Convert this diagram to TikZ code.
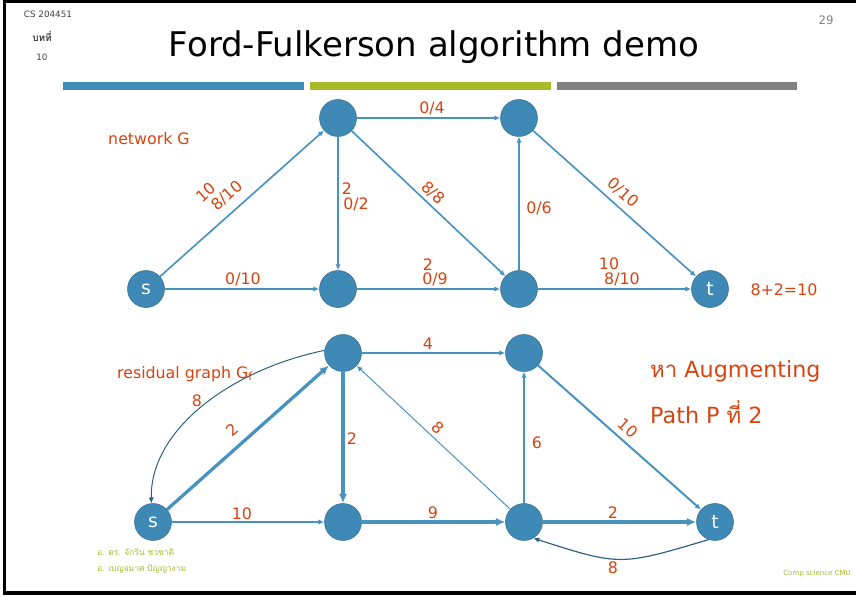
\documentclass[tikz,border=0pt]{standalone}
\usepackage{fontspec}
\setmainfont{DejaVu Sans}
\newfontfamily\thaifont[Script=Thai]{Loma}
\usetikzlibrary{arrows.meta}

\definecolor{nodeblue}{RGB}{63,137,182}
\definecolor{edgeblue}{RGB}{72,146,192}
\definecolor{labelred}{RGB}{214,66,16}
\definecolor{barblue}{RGB}{64,142,186}
\definecolor{bargreen}{RGB}{168,186,40}
\definecolor{bargray}{RGB}{128,128,128}
\definecolor{notegreen}{RGB}{160,186,50}

\begin{document}
\begin{tikzpicture}[x=0.03cm, y=-0.03cm,
	vtx/.style={draw=nodeblue!75!black, fill=nodeblue, circle, minimum size=1.11cm, inner sep=0pt, text=white, font=\fontsize{16}{18}\selectfont},
	lbl/.style={text=labelred, inner sep=0pt, font=\fontsize{13.5}{15}\selectfont},
	flow/.style={draw=edgeblue, line width=1.4pt, -{Latex[length=5pt,width=4.5pt]}},
	thinflow/.style={flow, line width=0.85pt},
	pathflow/.style={flow, line width=2.8pt, -{Latex[length=8pt,width=7pt]}}]
	\useasboundingbox (0,0) rectangle (856,597);

	% slide frame, header and bars
	\draw[line width=2.6pt] (856,1.5) -- (4.5,1.5) -- (4.5,593) -- (856,593);
	\node[font=\fontsize{7.5}{9}\selectfont, text=black!75] (course) at (48,14) {CS 204451};
	\node[font=\fontsize{8.5}{9}\thaifont\bfseries, text=black!75] (chap) at (42,36) {บทที่};
	\node[font=\fontsize{7.5}{9}\selectfont, text=black!75] (chapno) at (42,57) {10};
	\node[font=\fontsize{10}{12}\selectfont, text=black!50] (pageno) at (826,20) {29};
	\node[font=\fontsize{29}{34}\selectfont] (title) at (434,47) {Ford-Fulkerson algorithm demo};
	\fill[barblue] (63,82) rectangle (304,90);
	\fill[bargreen] (310,82) rectangle (551,90);
	\fill[bargray] (557,82) rectangle (797,90);

	% network G with flow / capacity
	\node[vtx] (s1) at (146,289) {s};
	\node[vtx] (a1) at (338,118) {};
	\node[vtx] (b1) at (519,118) {};
	\node[vtx] (c1) at (338,289) {};
	\node[vtx] (d1) at (519,289) {};
	\node[vtx] (t1) at (710,289) {t};

	\draw[flow] (s1) -- (a1);
	\draw[flow] (s1) -- (c1);
	\draw[flow] (a1) -- (b1);
	\draw[flow] (a1) -- (c1);
	\draw[flow] (a1) -- (d1);
	\draw[flow] (c1) -- (d1);
	\draw[flow] (d1) -- (b1);
	\draw[flow] (b1) -- (t1);
	\draw[flow] (d1) -- (t1);

	\node[lbl, rotate=42] (lsa1) at (206,192) {10};
	\node[lbl, rotate=42] (lsa2) at (227,196) {8/10};
	\node[lbl] (lsc) at (243,279) {0/10};
	\node[lbl] (lab) at (432,108) {0/4};
	\node[lbl] (lac1) at (347,189) {2};
	\node[lbl] (lac2) at (356,204) {0/2};
	\node[lbl, rotate=-43] (lad) at (433,193) {8/8};
	\node[lbl] (lcd1) at (428,265) {2};
	\node[lbl] (lcd2) at (435,279) {0/9};
	\node[lbl] (ldb) at (539,208) {0/6};
	\node[lbl, rotate=-42] (lbt) at (623,193) {0/10};
	\node[lbl] (ldt1) at (609,264) {10};
	\node[lbl] (ldt2) at (622,279) {8/10};
	\node[lbl] (netname) at (149,139) {network G};
	\node[lbl] (total) at (784,290) {8+2=10};

	% residual graph
	\node[vtx] (s2) at (153,522) {s};
	\node[vtx] (a2) at (343,353) {};
	\node[vtx] (b2) at (524,353) {};
	\node[vtx] (c2) at (343,522) {};
	\node[vtx] (d2) at (524,522) {};
	\node[vtx] (t2) at (715,522) {t};

	\draw[pathflow] (s2) -- (a2);
	\draw[pathflow] (a2) -- (c2);
	\draw[pathflow] (c2) -- (d2);
	\draw[pathflow] (d2) -- (t2);
	\draw[flow, line width=1.2pt] (s2) -- (c2);
	\draw[flow, line width=1.2pt] (a2) -- (b2);
	\draw[flow, line width=1.7pt] (b2) -- (t2);
	\draw[thinflow, line width=1pt] (d2) -- (b2);
	\draw[thinflow] (d2) -- (a2);
	\draw[thinflow, draw=nodeblue!70!black] (a2.172) .. controls (230,370) and (150,430) .. (s2.95);
	\draw[thinflow, draw=nodeblue!70!black, line width=1pt] (t2.250) .. controls (620,566) .. (d2.300);

	\node[lbl, rotate=42] (rsa) at (232,430) {2};
	\node[lbl] (ras) at (197,401) {8};
	\node[lbl] (rsc) at (242,514) {10};
	\node[lbl] (rab) at (428,344) {4};
	\node[lbl] (rac) at (352,439) {2};
	\node[lbl, rotate=-43] (rda) at (438,428) {8};
	\node[lbl] (rcd) at (433,513) {9};
	\node[lbl] (rdb) at (537,443) {6};
	\node[lbl, rotate=-42] (rbt) at (628,428) {10};
	\node[lbl] (rdt) at (613,513) {2};
	\node[lbl] (rtd) at (613,568) {8};
	\node[lbl] (resname) at (185,374) {residual graph G\textsubscript{f}};
	\node[lbl, anchor=west, font=\fontsize{19}{22}\selectfont] (task1) at (650,371) {{\thaifont หา} Augmenting};
	\node[lbl, anchor=west, font=\fontsize{19}{22}\selectfont] (task2) at (650,412) {Path P {\thaifont ที่} 2};

	% footer
	\node[anchor=west, text=notegreen, font=\fontsize{7.2}{8}\thaifont] (teach1) at (93,552) {อ. ดร. จักริน ชวชาติ};
	\node[anchor=west, text=notegreen, font=\fontsize{7.2}{8}\thaifont] (teach2) at (93,569) {อ. เบญจมาศ ปัญญางาม};
	\node[anchor=east, text=notegreen, font=\fontsize{6}{7}\selectfont] (dept) at (855,574) {Comp science CMU};
\end{tikzpicture}
\end{document}
